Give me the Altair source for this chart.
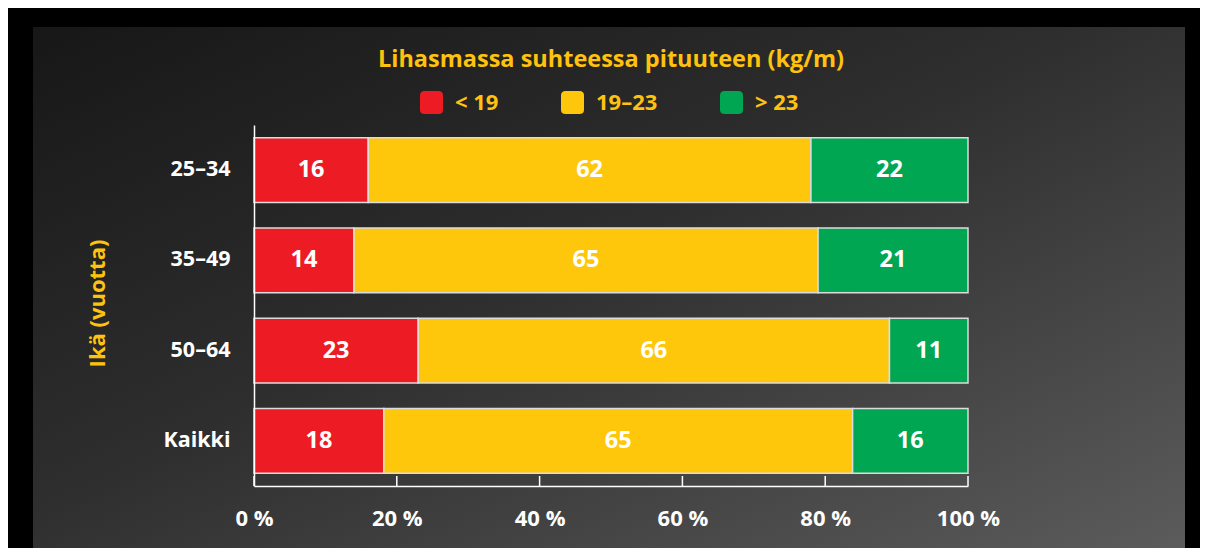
import altair as alt
import pandas as pd

# ---- data ----
ages = ["25–34", "35–49", "50–64", "Kaikki"]
categories = ["< 19", "19–23", "> 23"]
low = [16, 14, 23, 18]
middle = [62, 65, 66, 65]
high = [22, 21, 11, 16]
tick_values = [0, 0.2, 0.4, 0.6, 0.8, 1.0]

colors = ["#ED1C24", "#FFC70B", "#00A651"]
yellow = "#FFC20E"
FONT = "Open Sans"

rows = []
for i, a in enumerate(ages):
    for j, (c, series) in enumerate(zip(categories, [low, middle, high])):
        rows.append({"age": a, "cat": c, "value": series[i], "ord": j})
df = pd.DataFrame(rows)

W, H = 714, 361

xscale = alt.Scale(domain=[0, 1], nice=False, zero=True)
yscale = alt.Scale(paddingInner=0.28, paddingOuter=0.14)

rounded = ("M -1 -0.6 Q -1 -1 -0.6 -1 L 0.6 -1 Q 1 -1 1 -0.6 L 1 0.6 "
           "Q 1 1 0.6 1 L -0.6 1 Q -1 1 -1 0.6 Z")

# textured background panel (decoration)
bg = alt.Chart(pd.DataFrame({"k": [0]})).mark_rect(
    color=alt.Gradient(
        gradient="linear",
        stops=[alt.GradientStop(color="#171717", offset=0),
               alt.GradientStop(color="#2e2e2e", offset=0.45),
               alt.GradientStop(color="#5c5c5c", offset=1)],
        x1=0, y1=0, x2=1, y2=1),
).encode(
    x=alt.value(-221), x2=alt.value(931), y=alt.value(-98), y2=alt.value(430)
)

bars = alt.Chart(df).mark_bar(stroke="#dcdcdc", strokeWidth=1.5).encode(
    x=alt.X("value:Q", stack="normalize", scale=xscale,
            axis=alt.Axis(values=tick_values, title=None, grid=False, ticks=False,
                          domain=True, domainColor="white", domainWidth=1.5,
                          labelColor="white", labelFont=FONT, labelFontSize=22,
                          labelFontWeight="bold", labelPadding=22, labelFlush=False,
                          zindex=2,
                          labelExpr="format(datum.value * 100, 'd') + ' %'")),
    y=alt.Y("age:N", sort=ages, scale=yscale,
            axis=alt.Axis(title="Ikä (vuotta)", ticks=False, domain=True,
                          domainColor="white", domainWidth=1.5, zindex=2,
                          labelColor="white", labelFont=FONT, labelFontSize=21.5,
                          labelFontWeight="bold", labelPadding=24,
                          titleColor=yellow, titleFont=FONT, titleFontSize=22,
                          titleFontWeight="bold", titleAngle=-90,
                          titleX=-157, titleY=178, titleAlign="center",
                          titleBaseline="middle")),
    color=alt.Color("cat:N", sort=categories,
                    scale=alt.Scale(domain=categories, range=colors),
                    legend=alt.Legend(title=None, orient="none", direction="horizontal",
                                      legendX=166, legendY=-34, zindex=2,
                                      symbolType=rounded, symbolSize=529,
                                      symbolStrokeWidth=0, symbolOpacity=1,
                                      labelColor=yellow, labelFont=FONT,
                                      labelFontSize=22, labelFontWeight="bold",
                                      labelOffset=12, columnPadding=62)),
    order=alt.Order("ord:Q"),
)

labels = alt.Chart(df).transform_joinaggregate(
    total="sum(value)", groupby=["age"]
).transform_window(
    cum="sum(value)", sort=[alt.SortField("ord")], groupby=["age"], frame=[None, 0]
).transform_calculate(
    mid="(datum.cum - datum.value / 2) / datum.total"
).mark_text(color="white", font=FONT, fontSize=23.5, fontWeight="bold").encode(
    x=alt.X("mid:Q", scale=xscale),
    y=alt.Y("age:N", sort=ages, scale=yscale),
    text=alt.Text("value:Q"),
)

ticks = alt.Chart(pd.DataFrame({"t": tick_values})).mark_rule(
    color="white", strokeWidth=1.5
).encode(
    x=alt.X("t:Q", scale=xscale),
    y=alt.value(H - 10),
    y2=alt.value(H),
)

chart = alt.layer(bg, bars, labels, ticks).properties(
    width=W, height=H,
    title=alt.TitleParams("Lihasmassa suhteessa pituuteen (kg/m)", color=yellow,
                          font=FONT, fontSize=23.5, fontWeight="bold", anchor="middle",
                          dy=48),
    autosize=alt.AutoSizeParams(type="none"),
    padding={"left": 246, "top": 117, "right": 232, "bottom": 62},
    background="black",
).configure_view(stroke=None)

chart.save("out.html", embed_options={"renderer": "svg", "actions": False})
